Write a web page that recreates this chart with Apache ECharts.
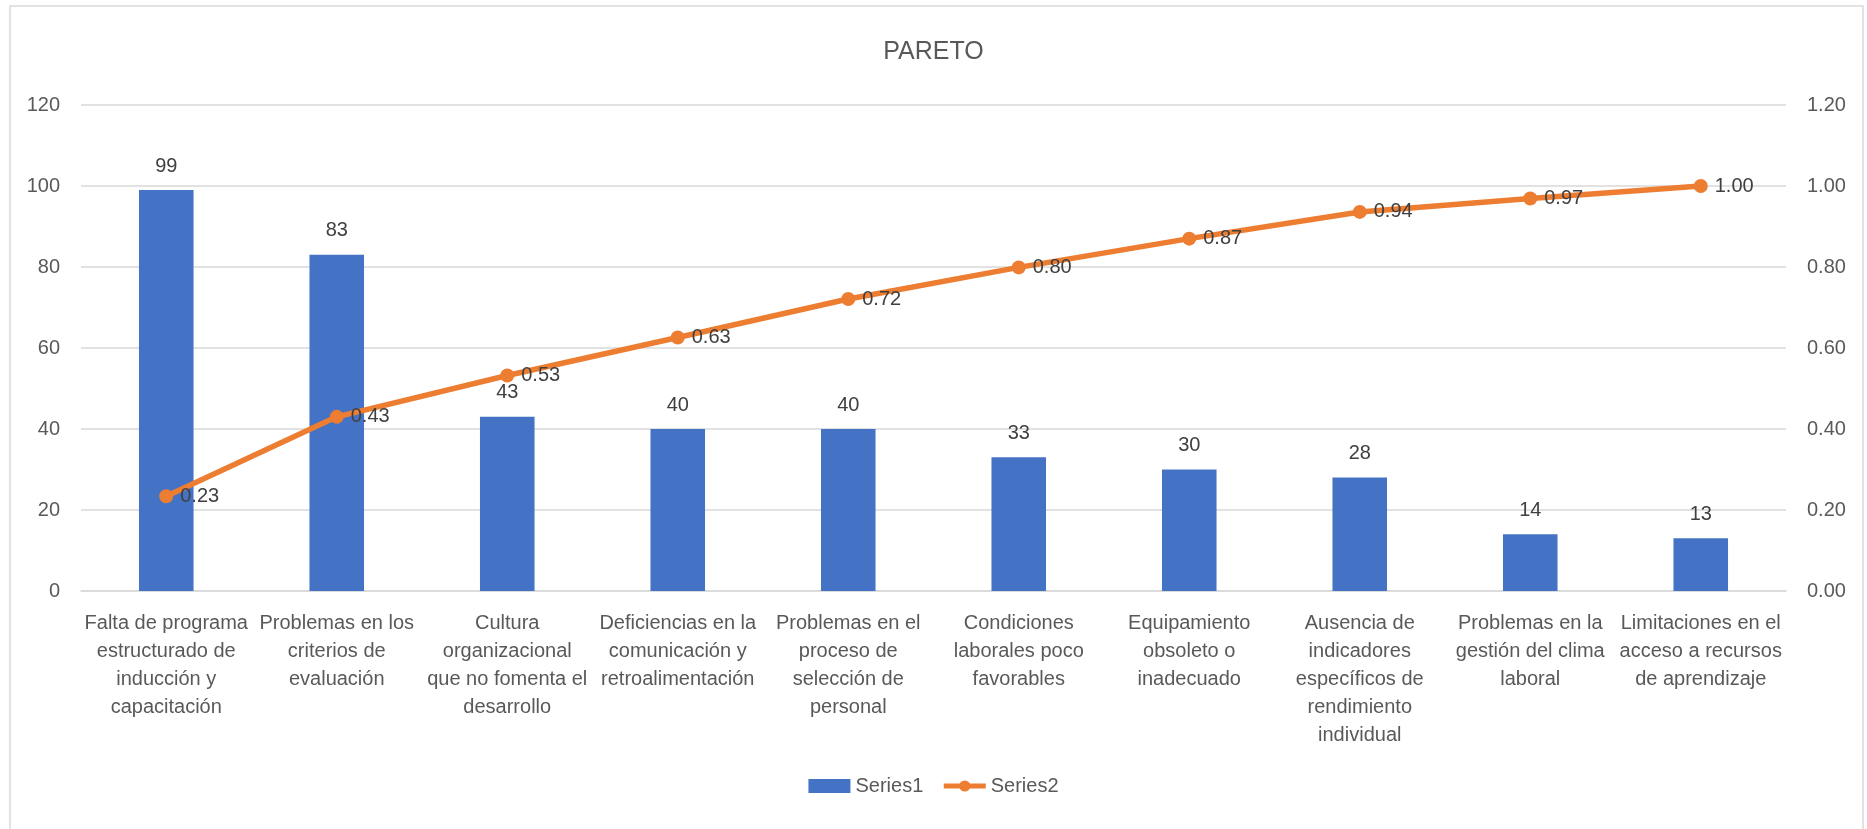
<!DOCTYPE html>
<html>
<head>
<meta charset="utf-8">
<script src="https://cdn.jsdelivr.net/npm/echarts@6/dist/echarts.min.js"></script>
<style>
  html, body { margin: 0; padding: 0; background: #fff; }
  #chart-container { width: 1867px; height: 829px; }
</style>
</head>
<body>
<div id="chart-container"></div>
<script>
// causas (ya partidas en lineas como en el original)
const categories = [
  'Falta de programa\nestructurado de\ninducción y\ncapacitación',
  'Problemas en los\ncriterios de\nevaluación',
  'Cultura\norganizacional\nque no fomenta el\ndesarrollo',
  'Deficiencias en la\ncomunicación y\nretroalimentación',
  'Problemas en el\nproceso de\nselección de\npersonal',
  'Condiciones\nlaborales poco\nfavorables',
  'Equipamiento\nobsoleto o\ninadecuado',
  'Ausencia de\nindicadores\nespecíficos de\nrendimiento\nindividual',
  'Problemas en la\ngestión del clima\nlaboral',
  'Limitaciones en el\nacceso a recursos\nde aprendizaje'
];
const series1 = [99, 83, 43, 40, 40, 33, 30, 28, 14, 13];
const series2 = [0.234, 0.430, 0.532, 0.626, 0.721, 0.799, 0.870, 0.936, 0.969, 1.00];
const leftTicks = { min: 0, max: 120, interval: 20 };
const rightTicks = { min: 0, max: 1.2, interval: 0.2 };

const fontFam = '"Liberation Sans", Arial, sans-serif';
const gridColor = '#d9d9d9';

var dom = document.getElementById('chart-container');
var myChart = echarts.init(dom, null, { renderer: 'canvas' });

var option = {
  animation: false,
  textStyle: { fontFamily: fontFam },
  graphic: [{
    type: 'rect',
    shape: { x: 10, y: 6, width: 1853, height: 840 },
    style: { fill: 'none', stroke: gridColor, lineWidth: 1.5 },
    silent: true
  }],
  title: {
    text: 'PARETO',
    left: 'center',
    top: 35,
    textStyle: { fontSize: 25, fontWeight: 'normal', color: '#595959', fontFamily: fontFam }
  },
  legend: {
    bottom: 28,
    left: 'center',
    itemWidth: 42,
    itemHeight: 14,
    itemGap: 18,
    textStyle: { fontSize: 20, color: '#595959', fontFamily: fontFam },
    data: [
      { name: 'Series1', icon: 'rect', itemHeight: 12 },
      { name: 'Series2', lineStyle: { width: 5 } }
    ]
  },
  grid: {
    left: 81,
    right: 81,
    top: 105,
    bottom: 238,
    containLabel: false,
    outerBoundsMode: 'none'
  },
  xAxis: [{
    type: 'category',
    data: categories,
    axisTick: { show: false },
    axisLine: { lineStyle: { color: gridColor, width: 1.5 } },
    axisLabel: {
      interval: 0,
      margin: 18,
      fontSize: 20,
      lineHeight: 28,
      color: '#595959',
      align: 'center'
    }
  }],
  yAxis: [
    {
      type: 'value',
      min: leftTicks.min, max: leftTicks.max, interval: leftTicks.interval,
      axisLine: { show: false },
      axisTick: { show: false },
      splitLine: { lineStyle: { color: gridColor, width: 1.5 } },
      axisLabel: { fontSize: 20, color: '#595959', margin: 21 }
    },
    {
      type: 'value',
      min: rightTicks.min, max: rightTicks.max, interval: rightTicks.interval,
      axisLine: { show: false },
      axisTick: { show: false },
      splitLine: { show: false },
      axisLabel: {
        fontSize: 20, color: '#595959', margin: 21,
        formatter: function (v) { return v.toFixed(2); }
      }
    }
  ],
  series: [
    {
      name: 'Series1',
      type: 'bar',
      barWidth: '32%',
      itemStyle: { color: '#4472C4' },
      label: {
        show: true,
        position: 'top',
        distance: 14,
        fontSize: 20,
        color: '#404040'
      },
      data: series1
    },
    {
      name: 'Series2',
      type: 'line',
      yAxisIndex: 1,
      symbol: 'circle',
      symbolSize: 14,
      itemStyle: { color: '#ED7D31' },
      lineStyle: { color: '#ED7D31', width: 5.5 },
      label: {
        show: true,
        position: 'right',
        distance: 7,
        fontSize: 20,
        color: '#404040',
        formatter: function (p) { return p.value.toFixed(2); }
      },
      data: series2
    }
  ]
};

myChart.setOption(option);
</script>
</body>
</html>
